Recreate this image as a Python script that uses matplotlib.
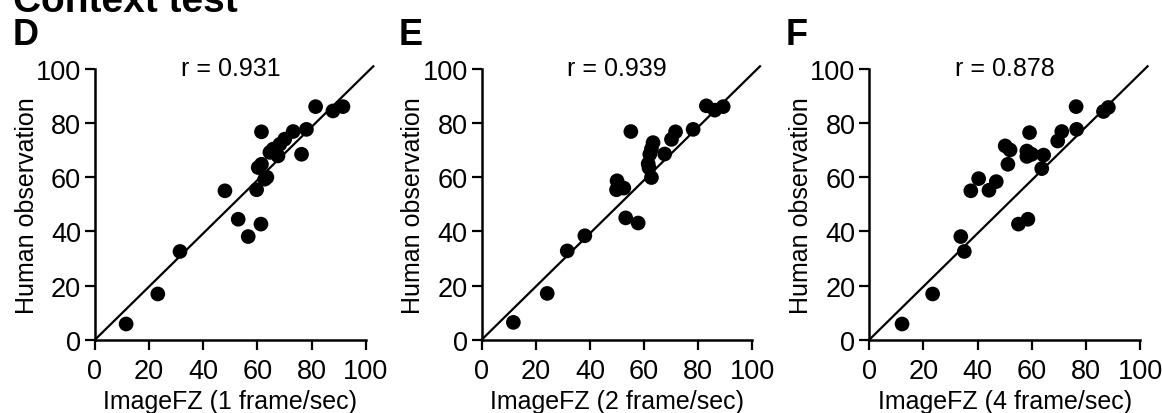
import matplotlib
matplotlib.use("Agg")
import matplotlib.pyplot as plt

plt.rcParams['font.family'] = ['Liberation Sans', 'DejaVu Sans']

# Panel D: ImageFZ (1 frame/sec)
x_D = [11.5, 23.2, 31.4, 48.0, 52.9, 56.6, 61.3, 59.7, 62.7, 63.5, 60.3, 61.5,
       61.5, 64.6, 65.8, 67.6, 68.3, 70.1, 73.2, 76.3, 78.1, 81.5, 87.9, 91.6]
y_D = [5.8, 16.9, 32.6, 55.0, 44.5, 38.1, 42.7, 55.4, 59.3, 60.0, 63.6, 64.8,
       76.8, 69.2, 70.4, 67.9, 72.2, 74.1, 76.9, 68.5, 77.7, 86.1, 84.5, 86.1]

# Panel E: ImageFZ (2 frame/sec)
x_E = [11.7, 24.2, 31.6, 38.1, 53.2, 57.8, 49.8, 50.0, 52.5, 55.1, 62.7, 61.5,
       62.1, 62.7, 63.3, 67.6, 70.1, 71.6, 78.1, 83.0, 86.1, 89.2, 61.8]
y_E = [6.4, 17.1, 32.8, 38.4, 45.0, 43.1, 55.4, 58.7, 56.0, 76.9, 59.9, 65.0,
       68.5, 70.5, 72.8, 68.6, 74.0, 76.8, 77.7, 86.4, 84.8, 86.1, 63.5]

# Panel F: ImageFZ (4 frame/sec)
x_F = [12.1, 23.4, 33.8, 35.1, 37.5, 40.4, 44.2, 46.9, 50.2, 52.0, 51.2, 55.1,
       58.6, 59.2, 58.2, 58.2, 60.0, 64.4, 63.7, 69.6, 71.1, 76.4, 76.6, 86.5, 88.3]
y_F = [5.8, 16.9, 38.1, 32.6, 55.0, 59.5, 55.2, 58.4, 71.6, 70.1, 64.8, 42.7,
       44.5, 76.5, 69.7, 67.7, 68.5, 68.2, 63.2, 73.4, 76.9, 86.1, 77.7, 84.3, 85.8]

# Fitted line endpoints (same in every panel)
line_x = [0, 102.8]
line_y = [0, 101.0]

panel_letters = ["D", "E", "F"]
r_labels = ["r = 0.931", "r = 0.939", "r = 0.878"]
x_labels = ["ImageFZ (1 frame/sec)", "ImageFZ (2 frame/sec)", "ImageFZ (4 frame/sec)"]
y_label = "Human observation"
ticks = [0, 20, 40, 60, 80, 100]

W, H = 1162, 414
fig = plt.figure(figsize=(W / 100, H / 100), dpi=100)

lefts_px = [95, 481.7, 869.3]
letter_px = [13, 399, 786]
axw = 270.7 / W
axh = 270.7 / H
bottom = (H - 340.7) / H

datasets = [(x_D, y_D), (x_E, y_E), (x_F, y_F)]

for i, (xs, ys) in enumerate(datasets):
    ax = fig.add_axes([lefts_px[i] / W, bottom, axw, axh])
    ax.plot(line_x, line_y, color='black', lw=1.6, clip_on=False, zorder=2)
    ax.scatter(xs, ys, s=112, color='black', edgecolors='none', zorder=3, clip_on=False)
    ax.set_xlim(0, 100)
    ax.set_ylim(0, 100)
    ax.set_xticks(ticks)
    ax.set_yticks(ticks)
    for s in ['top', 'right']:
        ax.spines[s].set_visible(False)
    for s in ['left', 'bottom']:
        ax.spines[s].set_linewidth(1.8)
    ax.tick_params(axis='both', direction='out', length=7, width=1.6,
                   labelsize=19.5, colors='black')
    ax.tick_params(axis='x', pad=6)
    ax.tick_params(axis='y', pad=3)
    ax.set_xlabel(x_labels[i], fontsize=18, labelpad=4)
    ax.set_ylabel(y_label, fontsize=18, labelpad=-2)
    ax.text(50, 100.5, r_labels[i], ha='center', va='center', fontsize=18)
    fig.text(letter_px[i] / W, 1 - 45 / H, panel_letters[i], fontsize=26,
             fontweight='bold', ha='left', va='baseline')

fig.text(13 / W, 1 - 12 / H, "Context test", fontsize=28, fontweight='bold',
         ha='left', va='baseline')

fig.savefig("out.png", dpi=100)
